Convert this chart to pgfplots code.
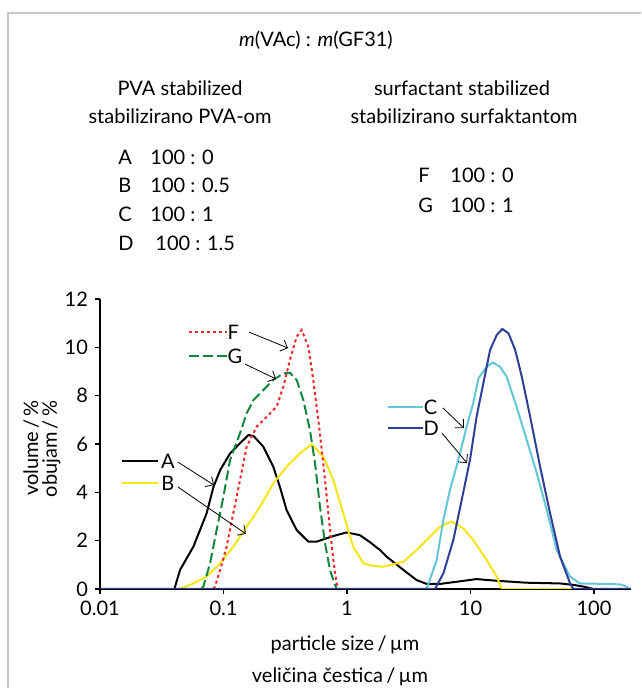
\documentclass[border=0pt]{standalone}
\usepackage{fontspec}
\setmainfont{Lato}
\usepackage{pgfplots}
\pgfplotsset{compat=1.18}
\usetikzlibrary{arrows.meta}

\definecolor{cA}{HTML}{000000}
\definecolor{cB}{HTML}{F5E616}
\definecolor{cC}{HTML}{62C6D8}
\definecolor{cD}{HTML}{2E3F95}
\definecolor{cF}{HTML}{EC2A2A}
\definecolor{cG}{HTML}{12853E}
\definecolor{frame}{HTML}{C8C8C8}

\newcommand{\fs}{\fontsize{10}{12}\selectfont}

\begin{document}
\begin{tikzpicture}
\begin{axis}[at={(0pt,0pt)}, anchor=south west,
  scale only axis, width=265.6pt, height=145pt,
  xmode=log, xmin=0.01, xmax=200, ymin=0, ymax=12,
  axis lines*=left, axis line style={line width=0.6pt},
  tick align=outside, major tick length=2.5pt, tick style={black, line width=0.6pt},
  xtick={0.01,0.1,1,10,100}, xticklabels={0.01,0.1,1,10,100}, xminorticks=false,
  ytick={0,2,...,12},
  tick label style={font=\fs},
  /pgf/number format/assume math mode=true]

\addplot[cA, line width=1pt] coordinates {(0.040,0) (0.0445,0.79) (0.057,1.75) (0.073,3.13) (0.083,4.23) (0.094,4.92) (0.113,5.61) (0.136,6.03) (0.159,6.37) (0.175,6.33) (0.210,5.89) (0.253,5.06) (0.286,4.23) (0.324,3.27) (0.391,2.44) (0.486,1.96) (0.568,1.96) (0.684,2.10) (0.824,2.23) (0.993,2.34) (1.27,2.23) (1.55,1.92) (1.85,1.61) (2.09,1.34) (2.86,0.79) (3.66,0.37) (4.42,0.21) (5.66,0.21) (7.72,0.30) (11.2,0.41) (16.3,0.34) (28.5,0.26) (53,0.23) (68,0.17) (82,0.10) (99,0)};
\addplot[cB, line width=1pt] coordinates {(0.044,0) (0.057,0.23) (0.073,0.51) (0.094,1.06) (0.120,1.75) (0.154,2.58) (0.198,3.41) (0.253,4.37) (0.324,5.06) (0.416,5.61) (0.518,5.99) (0.643,5.48) (0.775,4.51) (0.933,3.13) (1.12,1.75) (1.36,1.06) (1.63,0.95) (1.97,0.92) (2.86,1.13) (3.66,1.61) (4.70,2.17) (5.66,2.58) (7.03,2.79) (8.75,2.51) (10.5,2.03) (13.5,1.20) (16.3,0.51) (17.9,0) (68,0)};
\addplot[cF, line width=1pt, dash pattern=on 1.5pt off 1.5pt] coordinates {(0.083,0) (0.0853,0.1) (0.094,0.79) (0.106,1.75) (0.120,3.13) (0.136,4.51) (0.154,5.89) (0.186,6.72) (0.224,7.13) (0.269,7.54) (0.305,8.37) (0.345,9.48) (0.391,10.44) (0.429,10.72) (0.486,10.03) (0.533,8.65) (0.586,6.99) (0.643,5.20) (0.706,3.13) (0.775,1.20) (0.824,0.23) (0.851,0)};
\addplot[cG, line width=1pt, dash pattern=on 5pt off 2pt] coordinates {(0.066,0) (0.0687,0.1) (0.0778,1.06) (0.088,2.44) (0.0998,3.82) (0.113,5.34) (0.136,6.44) (0.154,7.27) (0.175,7.82) (0.210,8.23) (0.253,8.65) (0.305,8.92) (0.345,8.95) (0.391,8.65) (0.443,7.82) (0.501,6.58) (0.551,5.20) (0.604,3.41) (0.664,1.89) (0.728,0.79) (0.80,0.17) (0.824,0)};
\addplot[cC, line width=1pt] coordinates {(4.3,0) (4.48,0.1) (5.32,1.2) (6.03,2.86) (6.82,4.10) (7.96,5.34) (9.31,6.72) (10.5,7.68) (11.6,8.72) (13.5,9.20) (15.1,9.37) (17.3,9.20) (19.6,8.79) (23.6,7.54) (28.5,6.17) (34.4,4.79) (41.4,3.27) (49.9,1.61) (64,0.51) (77,0.23) (127,0.21) (163,0.19) (184,0.1) (195,0)};
\addplot[cD, line width=1pt] coordinates {(0.01,0) (5.16,0) (6.03,0.65) (7.26,2.03) (8.48,3.68) (9.90,5.34) (11.2,7.13) (12.7,8.51) (14.4,9.89) (16.3,10.51) (18.1,10.76) (20.3,10.58) (23.0,9.89) (26.0,8.79) (30.4,7.13) (36.6,5.06) (44.1,3.13) (53.1,1.34) (64,0.23) (68,0) (200,0)};

% in-plot keys and pointers
\draw[cA, line width=1pt] (axis cs:0.0151,5.30) -- (axis cs:0.0295,5.30);
\node[font=\fs] at (axis cs:0.0355,5.30) {A};
\draw[-{Straight Barb[length=3pt]}, line width=0.4pt] (axis cs:0.0428,5.25) -- (axis cs:0.0837,4.30);
\draw[cB, line width=1pt] (axis cs:0.0151,4.39) -- (axis cs:0.0295,4.39);
\node[font=\fs] at (axis cs:0.0355,4.39) {B};
\draw[-{Straight Barb[length=3pt]}, line width=0.4pt] (axis cs:0.0428,4.22) -- (axis cs:0.152,2.28);
\draw[cF, line width=1pt, dash pattern=on 1.5pt off 1.5pt] (axis cs:0.0525,10.63) -- (axis cs:0.1067,10.63);
\node[font=\fs] at (axis cs:0.120,10.63) {F};
\draw[-{Straight Barb[length=3pt]}, line width=0.4pt] (axis cs:0.161,10.63) -- (axis cs:0.333,9.97);
\draw[cG, line width=1pt, dash pattern=on 5pt off 2pt] (axis cs:0.0525,9.64) -- (axis cs:0.1067,9.64);
\node[font=\fs] at (axis cs:0.124,9.64) {G};
\draw[-{Straight Barb[length=3pt]}, line width=0.4pt] (axis cs:0.149,9.31) -- (axis cs:0.266,8.69);
\draw[cC, line width=1pt] (axis cs:2.15,7.53) -- (axis cs:4.12,7.53);
\node[font=\fs] at (axis cs:4.75,7.53) {C};
\draw[-{Straight Barb[length=3pt]}, line width=0.4pt] (axis cs:5.98,7.49) -- (axis cs:8.85,6.66);
\draw[cD, line width=1pt] (axis cs:2.15,6.66) -- (axis cs:4.12,6.66);
\node[font=\fs] at (axis cs:4.80,6.66) {D};
\draw[-{Straight Barb[length=3pt]}, line width=0.4pt] (axis cs:5.87,6.45) -- (axis cs:9.37,5.21);
\end{axis}

% axis titles
\node[font=\fs] at (122.5pt,-28pt) {particle size\,/\,µm};
\node[font=\fs] at (120pt,-44pt) {veličina čestica\,/\,µm};
\node[font=\fs, rotate=90, anchor=base] at (-31pt,70.5pt) {volume\,/\,\%};
\node[font=\fs, rotate=90, anchor=base] at (-21.5pt,70pt) {obujam\,/\,\%};

% header text
\node[font=\fs] at (108pt,274.5pt) {\textit{m}(VAc) : \textit{m}(GF31)};
\node[font=\fs] at (40pt,250.5pt) {PVA stabilized};
\node[font=\fs] at (40pt,236.5pt) {stabilizirano PVA-om};
\node[font=\fs] at (181pt,250.5pt) {surfactant stabilized};
\node[font=\fs] at (182pt,236.5pt) {stabilizirano surfaktantom};
\node[font=\fs, anchor=west, inner sep=0pt] at (9pt,216pt) {A};
\node[font=\fs, anchor=west, inner sep=0pt] at (25pt,216pt) {100 : 0};
\node[font=\fs, anchor=west, inner sep=0pt] at (9pt,202pt) {B};
\node[font=\fs, anchor=west, inner sep=0pt] at (25pt,202pt) {100 : 0.5};
\node[font=\fs, anchor=west, inner sep=0pt] at (9pt,187.5pt) {C};
\node[font=\fs, anchor=west, inner sep=0pt] at (25pt,187.5pt) {100 : 1};
\node[font=\fs, anchor=west, inner sep=0pt] at (9pt,173pt) {D};
\node[font=\fs, anchor=west, inner sep=0pt] at (27.5pt,173pt) {100 : 1.5};
\node[font=\fs, anchor=west, inner sep=0pt] at (159pt,207pt) {F};
\node[font=\fs, anchor=west, inner sep=0pt] at (175pt,207pt) {100 : 0};
\node[font=\fs, anchor=west, inner sep=0pt] at (159pt,192pt) {G};
\node[font=\fs, anchor=west, inner sep=0pt] at (175pt,192pt) {100 : 1};

% frame
\draw[frame, line width=1pt] (-46pt,-49.5pt) -- (-46pt,288pt) -- (270.5pt,288pt);
\pgfresetboundingbox
\path (-50pt,-49.5pt) rectangle (270.5pt,294.5pt);
\end{tikzpicture}
\end{document}
